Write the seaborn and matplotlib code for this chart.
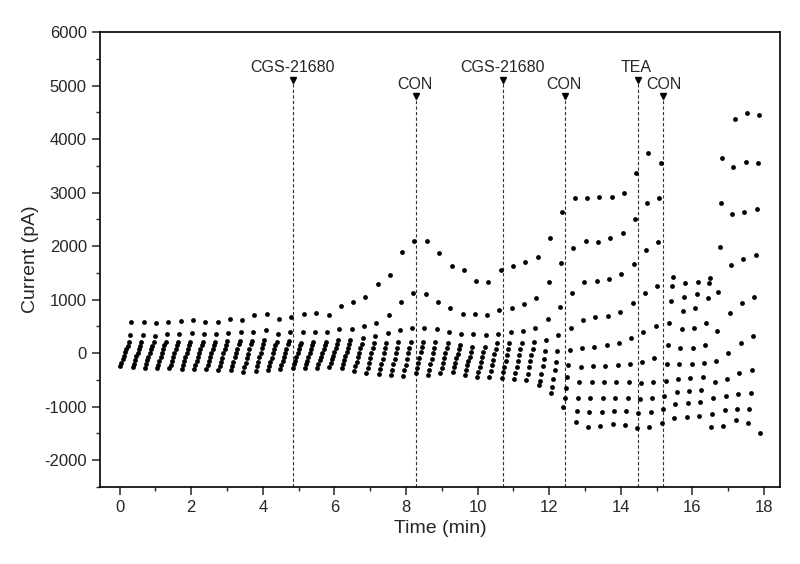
import pandas as pd
import matplotlib
matplotlib.use("Agg")
import matplotlib.pyplot as plt
import seaborn as sns
from matplotlib.ticker import MultipleLocator

# start time (min) of each voltage-step sweep
sweep_start = [0.01, 0.36, 0.70, 1.04, 1.39, 1.73, 2.08, 2.42, 2.76, 3.11, 3.45, 3.80, 4.14,
               4.48, 4.83, 5.17, 5.52, 5.86, 6.20, 6.55, 6.89, 7.24, 7.58, 7.92, 8.27, 8.61,
               8.96, 9.30, 9.64, 9.99, 10.33, 10.68, 11.02, 11.36, 11.71, 12.05, 12.40, 12.74,
               13.08, 13.43, 13.77, 14.12, 14.46, 14.80, 15.15, 15.49, 15.84, 16.18, 16.52,
               16.87, 17.21, 17.56]
# time of each step inside a sweep (min after sweep start)
step_offset = [0.0, 0.035, 0.07, 0.105, 0.14, 0.175, 0.21, 0.245, 0.28, 0.315]

# current (pA) at each voltage step, one value per sweep
i_step1 = [-243, -268, -274, -287, -287, -293, -305, -305, -318, -318, -349, -330, -318, -300,
           -286, -286, -286, -260, -286, -331, -368, -398, -411, -430, -380, -411, -380, -349,
           -411, -443, -440, -473, -490, -505, -600, -753,
           -1000, -1296, -1377, -1358, -1333, -1340, -1400, -1380,
           -1315, -1209, -1190, -1172, -1377, -1365, -1252, -1310]
i_step2 = [-179, -200, -206, -215, -215, -219, -230, -229, -240, -238, -264, -247, -240, -223,
           -213, -213, -212, -190, -211, -247, -277, -300, -309, -323, -282, -309, -287, -266,
           -318, -349, -337, -364, -377, -388, -520, -641,
           -840, -1085, -1100, -1100, -1085, -1090, -1120, -1100,
           -1052, -959, -928, -910, -1146, -1065, -1052, -1050]
i_step3 = [-115, -132, -138, -143, -143, -145, -155, -153, -162, -159, -179, -163, -162, -147,
           -141, -141, -139, -120, -136, -162, -185, -202, -207, -217, -183, -207, -193, -183,
           -224, -255, -233, -255, -263, -270, -400, -492,
           -660, -840, -850, -850, -840, -840, -860, -850,
           -798, -735, -704, -692, -847, -804, -766, -750]
i_step4 = [-52, -64, -70, -71, -71, -72, -80, -78, -84, -79, -94, -80, -84, -70,
           -68, -68, -65, -50, -60, -78, -94, -104, -106, -110, -85, -106, -100, -100,
           -150, -162, -130, -147, -150, -153, -250, -318,
           -450, -540, -550, -550, -540, -540, -560, -550,
           -517, -492, -461, -455, -536, -486, -380, -320]
i_step5 = [12, 4, -2, 1, 1, 2, -5, -2, -6, 1, -10, 3, -6, 7,
           4, 4, 8, 20, 15, 6, -3, -6, -4, -3, 13, -4, -7, -16,
           -69, -68, -27, -38, -37, -35, -120, -163,
           -224, -255, -250, -243, -224, -212, -162, -100,
           -212, -212, -206, -181, -150, 6, 193, 320]
i_step6 = [76, 72, 67, 73, 73, 76, 70, 74, 72, 80, 75, 87, 72, 83,
           77, 77, 82, 90, 90, 91, 89, 92, 98, 103, 112, 98, 87, 67,
           25, 26, 77, 71, 77, 83, 30, 37,
           56, 100, 120, 150, 193, 274, 387, 505,
           150, 87, 87, 150, 417, 753, 929, 1045]
i_step7 = [140, 140, 135, 145, 145, 150, 145, 150, 150, 160, 160, 170, 150, 160,
           150, 150, 155, 160, 165, 175, 180, 190, 200, 210, 210, 200, 180, 150,
           118, 120, 180, 180, 190, 200, 243, 336,
           462, 617, 680, 698, 773, 929, 1116, 1252,
           555, 443, 461, 567, 1146, 1645, 1757, 1830]
i_step8 = [200, 205, 200, 210, 210, 215, 210, 215, 220, 230, 225, 240, 210, 225,
           190, 200, 210, 243, 250, 280, 318, 368, 430, 473, 473, 440, 400, 360,
           349, 336, 360, 399, 411, 473, 636, 854,
           1127, 1333, 1346, 1383, 1477, 1664, 1925, 2069,
           972, 791, 835, 1022, 1975, 2598, 2641, 2690]
i_step9 = [336, 336, 318, 350, 350, 368, 350, 350, 368, 398, 385, 430, 355, 385,
           399, 399, 399, 442, 449, 511, 555, 710, 948, 1115, 1097, 959, 835, 723,
           723, 710, 804, 835, 910, 1022, 1333, 1677,
           1956, 2099, 2080, 2143, 2237, 2499, 2810, 2891,
           1258, 1052, 1097, 1302, 2810, 3482, 3576, 3560]
i_step10 = [585, 585, 555, 585, 604, 617, 585, 585, 636, 617, 710, 723, 636, 679,
            729, 742, 710, 884, 948, 1052, 1284, 1452, 1888, 2093, 2099, 1875, 1632, 1551,
            1351, 1333, 1551, 1626, 1707, 1800, 2143, 2641,
            2891, 2891, 2910, 2922, 2996, 3370, 3744, 3557,
            1427, 1302, 1321, 1408, 3650, 4368, 4492, 4450]
# last sweep was stopped after its first step
last_start = 17.90
last_step1 = -1500

events = ["CGS-21680", "CON", "CGS-21680", "CON", "TEA", "CON"]
event_t = [4.83, 8.27, 10.70, 12.43, 14.48, 15.17]
event_label_t = [4.83, 8.25, 10.70, 12.40, 14.43, 15.20]
event_top = [5100, 4800, 5100, 4800, 5100, 4800]

steps = [i_step1, i_step2, i_step3, i_step4, i_step5,
         i_step6, i_step7, i_step8, i_step9, i_step10]
rows = []
for j, vals in enumerate(steps):
    for k, v in enumerate(vals):
        rows.append({"time": sweep_start[k] + step_offset[j], "current": v})
rows.append({"time": last_start, "current": last_step1})
df = pd.DataFrame(rows)

sns.set_style("ticks")
plt.rcParams['font.family'] = ['Liberation Sans', 'DejaVu Sans']
plt.rcParams['axes.unicode_minus'] = False

fig = plt.figure(figsize=(8, 5.64), dpi=100)
ax = fig.add_axes([0.125, 0.137, 0.85, 0.806])

sns.scatterplot(data=df, x="time", y="current", color="black", s=12,
                linewidth=0, ax=ax, zorder=3)

for t, lt, top, lab in zip(event_t, event_label_t, event_top, events):
    ax.vlines(t, -2500, top, colors="#333333", linestyles=(0, (3, 2)), linewidth=0.8)
    ax.plot(t, top, marker="v", color="black", markersize=5)
    ax.text(lt, top + 90, lab, ha="center", va="bottom", fontsize=11.5)

ax.set_xlim(-0.55, 18.45)
ax.set_ylim(-2500, 6000)
ax.xaxis.set_major_locator(MultipleLocator(2))
ax.xaxis.set_minor_locator(MultipleLocator(1))
ax.yaxis.set_major_locator(MultipleLocator(1000))
ax.yaxis.set_minor_locator(MultipleLocator(500))
ax.tick_params(which="major", direction="out", length=6, width=1.1, labelsize=12)
ax.tick_params(which="minor", direction="out", length=3, width=1.0)
for sp in ax.spines.values():
    sp.set_linewidth(1.2)
    sp.set_color("black")
ax.set_xlabel("Time (min)", fontsize=14)
ax.set_ylabel("Current (pA)", fontsize=14)

fig.savefig("out.png", dpi=100)
